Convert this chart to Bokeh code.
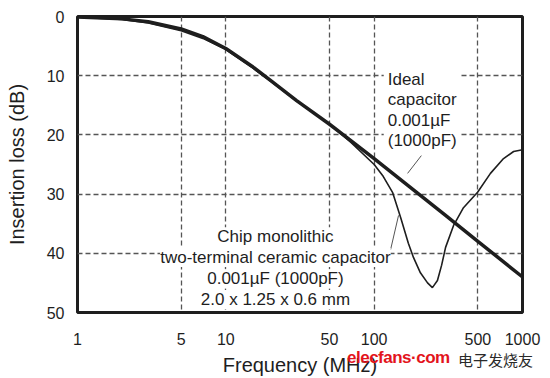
from bokeh.plotting import figure
from bokeh.models import Range1d, FixedTicker, CustomJSTickFormatter, Label
from bokeh.embed import file_html
from bokeh.resources import INLINE

# ---- data ----
freq_ideal = [1, 2, 3, 5, 7, 10, 15, 20, 30, 50, 70, 100, 200, 300, 500, 700, 1000]
loss_ideal = [0.1, 0.4, 0.9, 2.1, 3.4, 5.4, 8.4, 10.8, 14.2, 18.2, 21.0, 24.0, 30.0, 33.5, 38.0, 40.9, 44.0]

freq_chip = [1, 2, 3, 5, 7, 10, 15, 20, 30, 50, 70, 100, 115, 133, 151, 170, 184, 205, 229, 247,
             267, 285, 303, 343, 400, 498, 608, 745, 871, 1000]
loss_chip = [0.1, 0.5, 1.1, 2.4, 3.7, 5.6, 8.6, 10.9, 14.3, 18.2, 21.3, 25.0, 27.0, 29.7, 34.0, 38.3, 40.7, 43.3, 45.0, 45.8,
             44.6, 42.0, 39.0, 35.3, 32.3, 29.7, 26.5, 24.0, 22.8, 22.5]

x_ticks = [1, 5, 10, 50, 100, 500, 1000]
y_ticks = [0, 10, 20, 30, 40, 50]
x_grid = [5, 10, 50, 100, 500]
y_grid = [10, 20, 30, 40]

ideal_lines = ["Ideal", "capacitor", "0.001\u00b5F", "(1000pF)"]
ideal_text_x = 116
ideal_text_top = 8.3
ideal_leader_x = [208, 168]
ideal_leader_y = [23.5, 26.5]

chip_lines = ["Chip monolithic", "two-terminal ceramic capacitor", "0.001\u00b5F (1000pF)", "2.0 x 1.25 x 0.6 mm"]
chip_text_x = 21.6
chip_text_y = [37.2, 40.7, 44.3, 47.8]
chip_leader_x = [146, 129]
chip_leader_y = [33.6, 39.4]

watermark_latin = "elecfans\u00b7com"
watermark_cjk = "\u7535\u5b50\u53d1\u70e7\u53cb"

FONT = "Liberation Sans"
INK = "#1e1e1e"

p = figure(width=550, height=378, x_axis_type="log",
           x_range=Range1d(1, 1000), y_range=Range1d(50, 0),
           output_backend="svg", toolbar_location=None, title=None,
           min_border_left=77, min_border_right=28, min_border_top=16, min_border_bottom=66)

p.background_fill_color = "white"
p.border_fill_color = "white"
p.outline_line_color = INK
p.outline_line_width = 3

# axes
p.xaxis.ticker = FixedTicker(ticks=x_ticks)
p.xaxis.formatter = CustomJSTickFormatter(code="return String(Math.round(tick));")
p.yaxis.ticker = FixedTicker(ticks=y_ticks)
for ax in (p.xaxis, p.yaxis):
    ax.axis_line_color = None
    ax.major_tick_line_color = None
    ax.minor_tick_line_color = None
    ax.major_label_text_font = FONT
    ax.major_label_text_font_size = "16px"
    ax.major_label_text_color = INK
    ax.axis_label_text_font = FONT
    ax.axis_label_text_font_size = "20px"
    ax.axis_label_text_font_style = "normal"
    ax.axis_label_text_color = INK
p.xaxis.major_label_standoff = 14
p.yaxis.major_label_standoff = 7
p.xaxis.axis_label = "Frequency (MHz)"
p.yaxis.axis_label = "Insertion loss (dB)"
p.xaxis.axis_label_standoff = 6
p.yaxis.axis_label_standoff = 16

# grid
p.xgrid.ticker = FixedTicker(ticks=x_grid)
p.ygrid.ticker = FixedTicker(ticks=y_grid)
for g in (p.xgrid, p.ygrid):
    g.grid_line_color = "#555555"
    g.grid_line_dash = "5 3"
    g.grid_line_width = 1.3
    g.minor_grid_line_color = None

# curves
p.line(freq_chip, loss_chip, line_color=INK, line_width=1.6)
p.line(freq_ideal, loss_ideal, line_color=INK, line_width=3.5)

# leader lines
p.line(ideal_leader_x, ideal_leader_y, line_color="#555555", line_width=1)
p.line(chip_leader_x, chip_leader_y, line_color="#555555", line_width=1)

# annotations
p.add_layout(Label(x=ideal_text_x, y=ideal_text_top, text="\n".join(ideal_lines), text_font=FONT,
                   text_font_size="17px", text_color=INK, text_align="left", text_baseline="top",
                   text_line_height=1.08, background_fill_color="white", padding=4))
for txt, yy in zip(chip_lines, chip_text_y):
    p.add_layout(Label(x=chip_text_x, y=yy, text=txt, text_font=FONT, text_font_size="17px",
                       text_color=INK, text_align="center", text_baseline="middle",
                       background_fill_color="white"))

html = file_html(p, INLINE)

# source watermark overlaid on the page (outside the plot frame, so added as page text)
wm = (
    '<div style="position:absolute;left:347px;top:347px;line-height:22px;white-space:nowrap;'
    'font-family:\'Liberation Sans\';font-weight:bold;font-size:17px;letter-spacing:-0.5px;'
    'color:#e3141c;">' + watermark_latin + '</div>'
    '<div style="position:absolute;left:458px;top:349px;line-height:22px;white-space:nowrap;'
    'font-family:\'Noto Sans CJK SC\';font-size:15px;color:#2a2a2a;">' + watermark_cjk + '</div>'
)
html = html.replace("</body>", wm + "</body>")

open("out.html", "w").write(html)
